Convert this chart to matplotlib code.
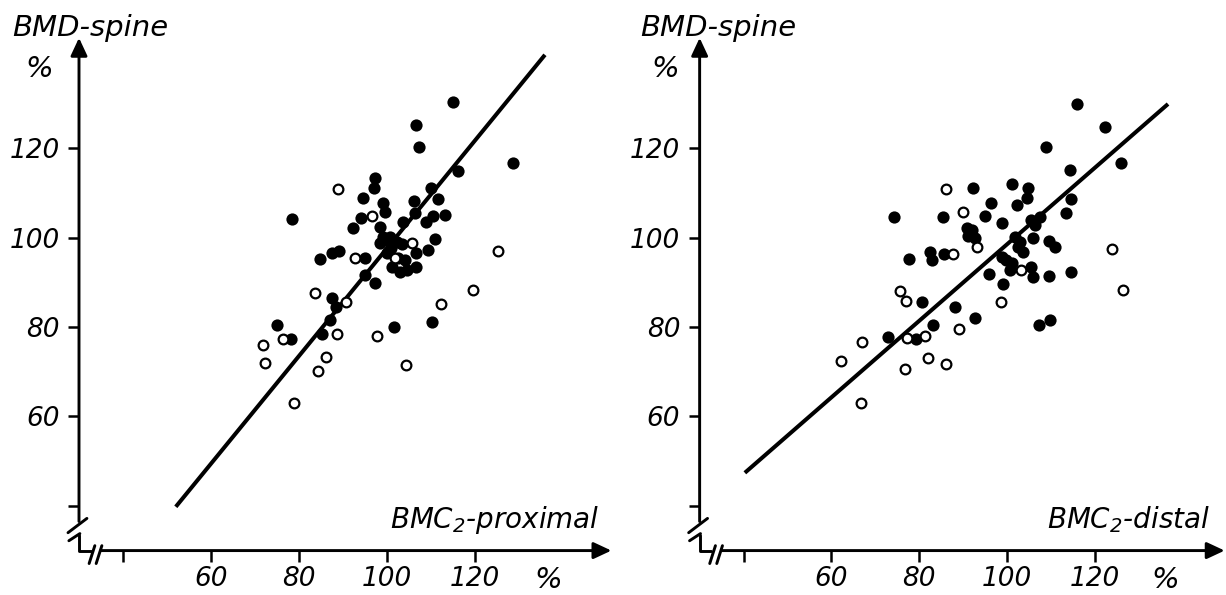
import matplotlib
matplotlib.use('Agg')
import matplotlib.pyplot as plt

plt.rcParams['font.family'] = ['DejaVu Sans']
plt.rcParams['font.style'] = 'italic'
plt.rcParams['mathtext.default'] = 'regular'

# --- data (BMD-spine % vs BMC2 %) ---
prox_filled_x = [97.3, 97.0, 94.6, 99.2, 99.5, 94.1, 78.3, 92.3, 98.4, 99.2, 99.9, 84.8, 87.4, 89.2,
                 95.0, 95.0, 97.3, 87.4, 88.4, 87.0, 85.2, 74.9, 78.2, 114.9, 106.6, 107.2, 128.6,
                 116.1, 110.0, 111.7, 106.2, 106.4, 110.4, 113.2, 108.9, 103.7, 110.8, 109.4, 106.7,
                 101.1, 103.0, 104.5, 106.7, 102.6, 104.1, 101.7, 110.2, 100.7, 102.2, 101.0, 103.5,
                 100.0, 98.5]
prox_filled_y = [113.3, 111.1, 108.8, 107.8, 105.8, 104.3, 104.1, 102.1, 102.3, 100.2, 99.5, 95.2, 96.6,
                 97.0, 95.4, 91.7, 89.9, 86.4, 84.6, 81.6, 78.5, 80.5, 77.4, 130.4, 125.2, 120.2, 116.8,
                 114.9, 111.2, 108.6, 108.1, 105.5, 104.9, 105.0, 103.6, 103.4, 99.6, 97.2, 96.5,
                 93.5, 92.4, 92.8, 93.5, 95.4, 95.0, 80.1, 81.2, 100.2, 99.1, 97.8, 98.5,
                 96.5, 98.8]
prox_open_x = [88.9, 96.5, 92.7, 83.6, 90.7, 88.7, 97.8, 76.3, 71.8, 72.3, 86.1, 84.4, 78.9, 105.6,
               101.8, 125.3, 119.6, 112.3, 104.3]
prox_open_y = [110.9, 104.9, 95.4, 87.6, 85.5, 78.5, 78.0, 77.4, 76.0, 72.0, 73.2, 70.2, 63.1, 98.7,
               95.4, 97.0, 88.3, 85.2, 71.5]

dist_filled_x = [92.3, 74.3, 85.4, 90.8, 92.0, 91.2, 92.7, 77.6, 82.5, 83.0, 85.7, 80.6, 88.2, 92.7,
                 83.2, 72.8, 79.3, 115.9, 122.3, 108.9, 125.9, 114.3, 101.1, 104.7, 104.5, 102.2,
                 96.4, 94.9, 98.8, 114.6, 113.4, 105.6, 107.5, 106.4, 101.8, 102.9, 102.6, 103.7,
                 106.0, 109.6, 111.0, 98.8, 99.9, 101.1, 100.7, 105.6, 106.0, 109.6, 114.6, 95.9,
                 99.2, 107.2, 109.8]
dist_filled_y = [111.1, 104.6, 104.6, 102.1, 101.7, 100.4, 99.9, 95.2, 96.9, 94.9, 96.4, 85.7, 84.6, 82.0,
                 80.5, 77.7, 77.3, 129.8, 124.8, 120.2, 116.8, 115.1, 111.9, 111.1, 108.8, 107.3,
                 107.7, 104.9, 103.2, 108.6, 105.5, 104.0, 104.7, 102.8, 100.2, 99.1, 98.0, 96.9,
                 99.9, 99.3, 97.9, 95.7, 94.9, 94.3, 92.8, 93.5, 91.1, 91.4, 92.4, 91.8,
                 89.6, 80.5, 81.6]
dist_open_x = [86.1, 89.9, 93.1, 87.7, 75.6, 77.0, 89.1, 81.3, 77.3, 66.9, 62.1, 82.1, 86.1, 76.8,
               66.7, 103.2, 98.7, 124.0, 126.4]
dist_open_y = [110.9, 105.7, 98.0, 96.3, 88.1, 85.9, 79.5, 78.0, 77.5, 76.7, 72.3, 73.0, 71.7, 70.6,
               63.1, 92.7, 85.7, 97.5, 88.2]

# regression lines (end points)
prox_fit_x = [52.0, 135.9]
prox_fit_y = [39.8, 140.9]
dist_fit_x = [40.3, 136.7]
dist_fit_y = [47.4, 129.9]

ticks = [40, 60, 80, 100, 120]
tick_labels = ['', '60', '80', '100', '120']

W, H = 1226, 595
fig = plt.figure(figsize=(W / 100, H / 100), dpi=100)

ax1 = fig.add_axes([52.6 / W, (H - 577.4) / H, 580.8 / W, 554.3 / H])
ax1.set_xlim(24, 156)
ax1.set_ylim(24, 148)
ax2 = fig.add_axes([673.3 / W, (H - 577.4) / H, 553.1 / W, 554.3 / H])
ax2.set_xlim(24, 150)
ax2.set_ylim(24, 148)

lw_axis = 2.1
for ax, xtip in [(ax1, 151.0), (ax2, 149.6)]:
    ax.patch.set_alpha(0)
    for s in ['top', 'right']:
        ax.spines[s].set_visible(False)
    for s in ['left', 'bottom']:
        ax.spines[s].set_position(('data', 30))
        ax.spines[s].set_color('none')
    ax.set_xticks(ticks)
    ax.set_xticklabels(tick_labels)
    ax.set_yticks(ticks)
    ax.set_yticklabels(tick_labels)
    ax.tick_params(direction='out', length=8, width=1.8, labelsize=19)
    ax.tick_params(axis='x', pad=3)
    ax.tick_params(axis='y', pad=6)

    arrow = dict(arrowstyle='-|>,head_length=0.6,head_width=0.28', lw=lw_axis,
                 color='black', mutation_scale=18, shrinkA=0, shrinkB=0)
    ax.annotate('', xy=(30, 144.7), xytext=(30, 36.5), arrowprops=arrow, annotation_clip=False)
    ax.annotate('', xy=(xtip, 30), xytext=(35.0, 30), arrowprops=arrow, annotation_clip=False)
    # axis breaks
    kw = dict(color='black', lw=lw_axis, solid_capstyle='round', clip_on=False)
    ax.plot([27.5, 31.8], [34.0, 37.2], **kw)
    ax.plot([27.7, 30.2], [32.2, 33.8], **kw)
    ax.plot([30, 30, 32.7], [33.4, 30, 30], **kw)
    ax.plot([32.3, 33.6], [27.1, 31.1], **kw)
    ax.plot([33.9, 35.2], [27.1, 31.1], **kw)

for ax, fx, fy, ox, oy, lx, ly in [
        (ax1, prox_filled_x, prox_filled_y, prox_open_x, prox_open_y, prox_fit_x, prox_fit_y),
        (ax2, dist_filled_x, dist_filled_y, dist_open_x, dist_open_y, dist_fit_x, dist_fit_y)]:
    ax.plot(lx, ly, color='black', lw=2.9, solid_capstyle='butt', zorder=2)
    ax.plot(fx, fy, 'o', color='black', ms=8.8, mew=0, zorder=3)
    ax.plot(ox, oy, 'o', mfc='white', mec='black', ms=7.0, mew=1.6, zorder=4)


def ftext(x, y, s, **kw):
    fig.text(x / W, 1 - y / H, s, fontsize=kw.pop('fontsize', 19), va='baseline', **kw)


ftext(12, 36, 'BMD-spine', fontsize=21)
ftext(39, 77, '%', ha='center', fontsize=21)
ftext(640, 36, 'BMD-spine', fontsize=21)
ftext(665, 77, '%', ha='center', fontsize=21)
ftext(390, 528, 'BMC$_2$-proximal', fontsize=20)
ftext(1047, 528, 'BMC$_2$-distal', fontsize=20)
ftext(548, 588, '%', ha='center', fontsize=21)
ftext(1165, 588, '%', ha='center', fontsize=21)

fig.savefig('out.png', dpi=100)
